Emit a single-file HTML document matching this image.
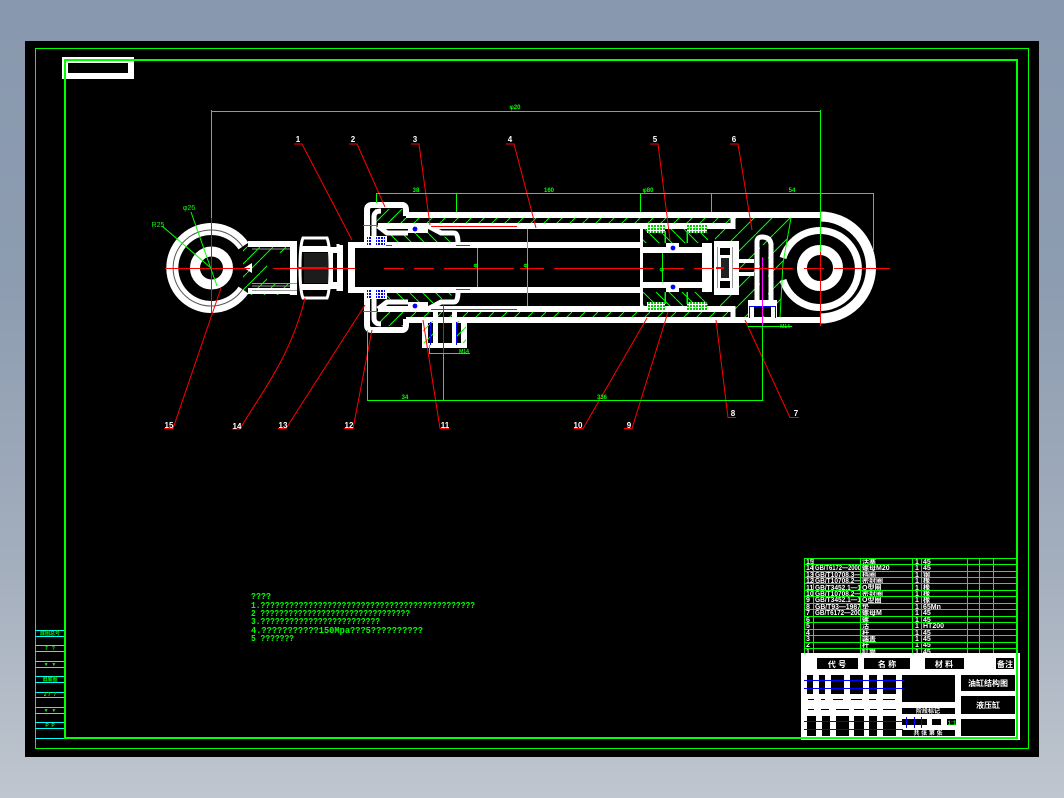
<!DOCTYPE html>
<html><head><meta charset="utf-8"><style>
html,body{margin:0;padding:0;width:1064px;height:798px;overflow:hidden}
body{background:linear-gradient(#8898ae,#8d9cb1 35%,#a3aebd 70%,#bfc6cf)}
svg{position:absolute;left:0;top:0}
text{font-family:"Liberation Sans","Noto Sans CJK SC",sans-serif}
.n{fill:#fff;font-size:8px;font-weight:bold;text-anchor:middle}
.g{fill:#0f0;font-size:6px;font-weight:bold;text-anchor:middle}
.t{fill:#fff;font-size:7px;font-weight:bold}
.k{fill:#fff;font-size:8px;font-weight:bold;text-anchor:middle}
.m{fill:#0f0;font-family:"Liberation Mono",monospace;font-size:9px;font-weight:bold}
.c{fill:#0f0;font-size:5px;font-weight:bold;text-anchor:middle}
</style></head><body>
<svg width="1064" height="798" viewBox="0 0 1064 798" shape-rendering="crispEdges">
<defs>
<pattern id="h1" patternUnits="userSpaceOnUse" width="13" height="13"><path d="M0 13L13 0" stroke="#0f0" stroke-width="1" shape-rendering="auto"/></pattern>
<pattern id="h2" patternUnits="userSpaceOnUse" width="18" height="18"><path d="M0 18L18 0" stroke="#0f0" stroke-width="1" shape-rendering="auto"/></pattern>
<pattern id="h3" patternUnits="userSpaceOnUse" width="13" height="13"><path d="M0 0L13 13" stroke="#0f0" stroke-width="1" shape-rendering="auto"/></pattern>
<pattern id="bc" patternUnits="userSpaceOnUse" width="3" height="3"><rect width="3" height="3" fill="#fff"/><rect width="2" height="2" fill="#00f"/></pattern>
<pattern id="gc" patternUnits="userSpaceOnUse" width="3" height="3"><rect width="3" height="3" fill="#fff"/><rect width="2" height="2" fill="#0c0"/></pattern>
<g id="half" fill="none" stroke="#fff">
  <!-- tube -->
  <path d="M406 215H820" stroke-width="6"/>
  <path d="M378 226H735" stroke-width="6"/>
  <path d="M733 212V229" stroke-width="5"/>
  <!-- rod -->
  <path d="M350 245H640" stroke-width="6"/>
  <!-- gland -->
  <path d="M367 243V210Q367 205 372 205H402Q406 205 406 210V216" stroke-width="6" shape-rendering="auto"/>
  <path d="M381 211Q374 211 374 217V240" stroke-width="5" shape-rendering="auto"/>
  <path d="M378 226L387 233H408" stroke-width="5" shape-rendering="auto"/>
  <rect x="408" y="226" width="20" height="7" fill="#fff" stroke="none"/>
  <path d="M428 226L441 233H454Q458 233 458 243" stroke-width="5" shape-rendering="auto"/>
  <!-- piston -->
  <path d="M643 250H708" stroke-width="6"/>
  <rect x="666" y="243" width="13" height="7" fill="#fff" stroke="none"/>
  <rect x="647" y="225" width="18" height="8" fill="url(#gc)" stroke="none"/>
  <rect x="687" y="225" width="20" height="8" fill="url(#gc)" stroke="none"/>
  <path d="M665 231V243M687 231V243" stroke-width="1.5" stroke="#0f0"/>
  <!-- seals -->
  <rect x="366" y="236" width="21" height="10" fill="#fff" stroke="none"/>
  <rect x="367" y="237" width="5" height="8" fill="url(#bc)" stroke="none"/>
  <rect x="376" y="237" width="9" height="8" fill="url(#bc)" stroke="none"/>
  <circle cx="415" cy="229" r="2.4" fill="#00f" stroke="none" shape-rendering="auto"/>
  <circle cx="673" cy="248" r="2.4" fill="#00f" stroke="none" shape-rendering="auto"/>
  <!-- clevis -->
  <path d="M248 244H297" stroke-width="6"/>
  <path d="M252 249H297" stroke="#999" stroke-width="1"/>
  <path d="M338 249V244" stroke-width="3"/>
</g>
</defs>
<rect x="25" y="41" width="1014" height="716" fill="#000"/>
<rect x="35.500" y="48.500" width="993" height="700" fill="none" stroke="#0f0"/>
<!-- top-left plate -->
<rect x="62" y="57" width="72" height="22" fill="#fff"/>
<rect x="68" y="63" width="60" height="10" fill="#000"/>
<!-- left strip -->
<g stroke="#0ff">
<path d="M35 630.500H65M35 636.500H65M35 645.500H65M35 651.500H65M35 661.500H65M35 667.500H65M35 676.500H65M35 682.500H65M35 692.500H65M35 697.500H65M35 707.500H65M35 713.500H65M35 722.500H65M35 728.500H65M35 738.500H65"/>
</g>
<g class="c"><text x="50" y="635" class="c">底图总号</text><text x="50" y="650" class="c">7 &#160; ?</text><text x="50" y="666" class="c">▼ &#160;▼</text><text x="50" y="681" class="c">旧底图</text><text x="50" y="696" class="c">2 7 &#160;7</text><text x="50" y="712" class="c">▼ &#160;▼</text><text x="50" y="727" class="c">P &#160;P</text></g>

<!-- drawing hatches -->
<rect x="378" y="218" width="355" height="5" fill="url(#h1)"/>
<rect x="378" y="312" width="355" height="5" fill="url(#h1)"/>
<rect x="375" y="209" width="30" height="14" fill="url(#h1)"/>
<rect x="375" y="312" width="30" height="14" fill="url(#h1)"/>
<polygon points="385,231 430,231 458,242 385,242" fill="url(#h3)"/>
<polygon points="385,304 430,304 458,293 385,293" fill="url(#h3)"/>
<polygon points="735,218 791,218 783,263 780,318 735,318 735,306 715,306 715,229 735,229" fill="url(#h2)"/>
<rect x="643" y="229" width="65" height="14" fill="url(#h3)"/>
<rect x="643" y="292" width="65" height="14" fill="url(#h3)"/>
<rect x="243" y="241" width="54" height="54" fill="url(#h1)"/>

<!-- white half, mirrored -->
<use href="#half"/>
<use href="#half" transform="matrix(1 0 0 -1 0 535)"/>

<!-- tube end, right eye -->
<g fill="none" stroke="#fff" shape-rendering="auto">
<path d="M820 216.500A51 51 0 0 1 820 318.500" stroke-width="10"/>
<path d="M783 258A38.500 38.500 0 1 1 783 280" stroke-width="7"/>
<circle cx="820" cy="268" r="18" stroke-width="10"/>
<!-- left eye -->
<path d="M243.500 246A39 39 0 1 0 243.500 290" stroke-width="12"/>
<path d="M242.600 246.700A38 38 0 1 0 242.600 289.300" stroke="#555" stroke-width="1"/>
<circle cx="211.500" cy="268" r="16.500" stroke-width="10"/>
<polygon points="244,268 252,263 252,273" fill="#fff" stroke="none"/>
<!-- line right of eye edge -->
<path d="M791 218L783 263L780 318" stroke="#0f0" stroke-width="1" />
</g>

<!-- clevis inner -->
<rect x="267" y="253" width="23" height="30" fill="#000"/>
<rect x="290" y="241" width="7" height="54" fill="#fff"/>
<rect x="252" y="283" width="45" height="1" fill="#999"/>
<rect x="252" y="290" width="45" height="1" fill="#999"/>
<!-- nut -->
<path d="M303 238H327Q330 245 330 268Q330 291 327 298H303Q300 291 300 268Q300 245 303 238Z" fill="#000" stroke="#fff" stroke-width="3" shape-rendering="auto"/>
<path d="M304 253H328V283H304Z" fill="#1c1c1c"/>
<rect x="301" y="246" width="28" height="6" fill="#fff"/>
<rect x="301" y="284" width="28" height="6" fill="#fff"/>
<rect x="330" y="247" width="8" height="42" fill="#fff"/>
<rect x="333" y="253" width="4" height="29" fill="#000"/>
<rect x="338" y="245" width="5" height="46" fill="#fff"/>
<rect x="343" y="253" width="6" height="29" fill="#000"/>
<rect x="348" y="242" width="7" height="51" fill="#fff"/>

<!-- piston body -->
<rect x="640" y="229" width="3" height="77" fill="#fff"/>
<rect x="702" y="243" width="10" height="49" fill="#fff"/>
<rect x="643" y="253" width="59" height="29" fill="#000"/>
<rect x="714" y="241" width="25" height="54" fill="#fff"/>
<rect x="720" y="248" width="10" height="7" fill="#000"/>
<rect x="720" y="281" width="10" height="7" fill="#000"/>
<rect x="721" y="258" width="8" height="20" fill="#222"/>
<rect x="717" y="247" width="1" height="41" fill="#999"/>
<rect x="732" y="247" width="1" height="41" fill="#999"/>
<!-- port in cap -->
<rect x="739" y="259" width="15" height="4" fill="#fff"/>
<rect x="739" y="272" width="15" height="4" fill="#fff"/>
<path d="M757 303V242Q757 237 762 237Q770 237 771 244V303" fill="none" stroke="#fff" stroke-width="5" shape-rendering="auto"/>
<rect x="760" y="245" width="8" height="55" fill="#000"/>
<rect x="748" y="300" width="29" height="7" fill="#fff"/>
<rect x="754" y="307" width="17" height="9" fill="#000"/>
<rect x="748" y="307" width="6" height="10" fill="#fff"/>
<rect x="771" y="307" width="6" height="10" fill="#fff"/>
<rect x="735" y="317" width="85" height="6" fill="#fff"/>
<rect x="749" y="306" width="1" height="12" fill="#00f"/>
<rect x="775" y="306" width="1" height="12" fill="#00f"/>
<rect x="749" y="306" width="27" height="1" fill="#00f"/>

<!-- bottom port -->
<rect x="422" y="320" width="6" height="28" fill="#fff"/>
<rect x="461" y="320" width="6" height="28" fill="#fff"/>
<rect x="422" y="343" width="45" height="5" fill="#fff"/>
<rect x="433" y="306" width="5" height="37" fill="#fff"/>
<rect x="452" y="306" width="5" height="37" fill="#fff"/>
<rect x="438" y="317" width="14" height="6" fill="#fff"/>
<rect x="423" y="321" width="10" height="22" fill="url(#h1)"/>
<rect x="456" y="321" width="10" height="22" fill="url(#h1)"/>
<rect x="430" y="322" width="1" height="23" fill="#00f"/>
<rect x="456" y="322" width="1" height="23" fill="#00f"/>

<!-- magenta -->
<g fill="#f0f"><rect x="363" y="225" width="15" height="1"/><rect x="363" y="311" width="15" height="1"/><rect x="762" y="257" width="1" height="68"/></g>
<!-- red short -->
<g fill="#f00">
<rect x="431" y="226" width="86" height="1"/><rect x="431" y="309" width="86" height="1"/>
<rect x="386" y="245" width="6" height="1"/><rect x="456" y="245" width="14" height="1"/>
<rect x="456" y="289" width="14" height="1"/>
<rect x="443" y="305" width="1" height="48"/>
</g>
<!-- centre lines -->
<g fill="#f00">
<rect x="165" y="268" width="85" height="1"/><rect x="273" y="268" width="24" height="1"/>
<rect x="297" y="267" width="30" height="2"/><rect x="327" y="268" width="28" height="1"/>
<rect x="384" y="268" width="20" height="1"/><rect x="414" y="268" width="20" height="1"/><rect x="444" y="268" width="70" height="1"/>
<rect x="520" y="268" width="24" height="1"/><rect x="554" y="268" width="100" height="1"/><rect x="663" y="268" width="21" height="1"/>
<rect x="694" y="268" width="20" height="1"/><rect x="716" y="267" width="8" height="2"/><rect x="733" y="268" width="60" height="1"/>
<rect x="804" y="268" width="20" height="1"/><rect x="834" y="268" width="56" height="1"/>
<rect x="211" y="218" width="1" height="95"/>
<rect x="820" y="252" width="1" height="74"/>
</g>
<!-- leaders -->
<g fill="none" stroke="#f00" stroke-width="1" shape-rendering="auto">
<path d="M294 144H302L352 240"/>
<path d="M349 144H357L385 207"/>
<path d="M411 144H419L430 225"/>
<path d="M506 144H514L536 228"/>
<path d="M650 144H658L670 240"/>
<path d="M730 144H738L752 230"/>
<path d="M164 428.500H173L221 288"/>
<path d="M232 429H240C256 400 290 360 305 298"/>
<path d="M278 428.500H286L365 305"/>
<path d="M344 428.500H353L372 330"/>
<path d="M449 428.500H440L423 320"/>
<path d="M574 428.500H583L647 318"/>
<path d="M624 428.500H632L668 312"/>
<path d="M736 417.500H728L716 320"/>
<path d="M799 417.500H790L745 320"/>
</g>
<g class="n">
<text x="298" y="142" class="n">1</text><text x="353" y="142" class="n">2</text><text x="415" y="142" class="n">3</text><text x="510" y="142" class="n">4</text><text x="655" y="142" class="n">5</text><text x="734" y="142" class="n">6</text>
<text x="169" y="428" class="n">15</text><text x="237" y="429" class="n">14</text><text x="283" y="428" class="n">13</text><text x="349" y="428" class="n">12</text><text x="445" y="428" class="n">11</text><text x="578" y="428" class="n">10</text><text x="629" y="428" class="n">9</text><text x="733" y="416" class="n">8</text><text x="796" y="416" class="n">7</text>
</g>
<!-- dimensions -->
<g fill="none" stroke="#0f0" stroke-width="1">
<path d="M211.500 110V218M820.500 110V252M211 111.500H821"/>
<path d="M376 193.500H873.500M376.500 193V203M456.500 193V212M640.500 193V212M711.500 193V212M873.500 193V250"/>
<path d="M367.500 330V400M367 400.500H763.500M762.500 325V400M443.500 353V400"/>
<path d="M748 326.500H792M430 353.500H470M429.500 345V354"/>
<path d="M477.500 248V287M527.500 229V306M662.500 253V282"/>
</g>
<g fill="none" stroke="#0f0" stroke-width="1" shape-rendering="auto"><path d="M162 226L211 268M191 212L217 286"/></g>
<text x="515" y="109" class="g">φ20</text>
<text x="416" y="192" class="g">38</text><text x="549" y="192" class="g">160</text><text x="648" y="192" class="g">φ80</text><text x="792" y="192" class="g">54</text>
<text x="405" y="399" class="g">34</text><text x="602" y="399" class="g">336</text>
<text x="464" y="353" class="c">M14</text><text x="785" y="328" class="c">M14</text>
<text x="476" y="268" class="g">Φ</text><text x="526" y="268" class="g">Φ</text><text x="662" y="272" class="g">Φ</text>
<text x="158" y="227" fill="#0f0" style="font-size:7px" text-anchor="middle">R25</text>
<text x="189" y="210" fill="#0f0" style="font-size:7px" text-anchor="middle">φ26</text>

<!-- notes -->
<text x="251" y="599" class="m" textLength="20" lengthAdjust="spacingAndGlyphs">????</text>
<text x="251" y="608" class="m" textLength="224" lengthAdjust="spacingAndGlyphs">1.?????????????????????????????????????????????</text>
<text x="251" y="616" class="m" textLength="159" lengthAdjust="spacingAndGlyphs">2 ????????????????????????????????</text>
<text x="251" y="624" class="m" textLength="129" lengthAdjust="spacingAndGlyphs">3.?????????????????????????</text>
<text x="251" y="633" class="m" textLength="172" lengthAdjust="spacingAndGlyphs">4.???????????150Mpa???5??????????</text>
<text x="251" y="641" class="m" textLength="43" lengthAdjust="spacingAndGlyphs">5 ???????</text>

<!-- parts table text -->
<g class="t">
<text x="806" y="564">15</text><text x="862" y="564">活塞</text><text x="915" y="564">1</text><text x="923" y="564">45</text>
<text x="806" y="570">14</text><text x="815" y="570" textLength="46" lengthAdjust="spacingAndGlyphs">GB/T6172—2000</text><text x="862" y="570">螺母M20</text><text x="915" y="570">1</text><text x="923" y="570">45</text>
<text x="806" y="577">13</text><text x="815" y="577" textLength="46" lengthAdjust="spacingAndGlyphs">GB/T10708.3—</text><text x="862" y="577">挡圈</text><text x="915" y="577">1</text><text x="923" y="577">钢</text>
<text x="806" y="583">12</text><text x="815" y="583" textLength="46" lengthAdjust="spacingAndGlyphs">GB/T10708.2—</text><text x="862" y="583">密封圈</text><text x="915" y="583">1</text><text x="923" y="583">橡</text>
<text x="806" y="590">11</text><text x="815" y="590" textLength="46" lengthAdjust="spacingAndGlyphs">GB/T3452.1—1</text><text x="862" y="590">O型圈</text><text x="915" y="590">1</text><text x="923" y="590">橡</text>
<text x="806" y="596">10</text><text x="815" y="596" textLength="46" lengthAdjust="spacingAndGlyphs">GB/T10708.2—</text><text x="862" y="596">密封圈</text><text x="915" y="596">1</text><text x="923" y="596">橡</text>
<text x="806" y="602">9</text><text x="815" y="602" textLength="46" lengthAdjust="spacingAndGlyphs">GB/T3452.1—1</text><text x="862" y="602">O型圈</text><text x="915" y="602">1</text><text x="923" y="602">橡</text>
<text x="806" y="609">8</text><text x="815" y="609" textLength="46" lengthAdjust="spacingAndGlyphs">GB/T93—1987</text><text x="862" y="609">垫</text><text x="915" y="609">1</text><text x="923" y="609">65Mn</text>
<text x="806" y="615">7</text><text x="815" y="615" textLength="46" lengthAdjust="spacingAndGlyphs">GB/T6172—200</text><text x="862" y="615">螺母M</text><text x="915" y="615">1</text><text x="923" y="615">45</text>
<text x="806" y="622">6</text><text x="862" y="622">螺</text><text x="915" y="622">1</text><text x="923" y="622">45</text>
<text x="806" y="628">5</text><text x="862" y="628">活</text><text x="915" y="628">1</text><text x="923" y="628">HT200</text>
<text x="806" y="635">4</text><text x="862" y="635">杆</text><text x="915" y="635">1</text><text x="923" y="635">45</text>
<text x="806" y="641">3</text><text x="862" y="641">端盖</text><text x="915" y="641">1</text><text x="923" y="641">45</text>
<text x="806" y="647">2</text><text x="862" y="647">杆</text><text x="915" y="647">1</text><text x="923" y="647">45</text>
<text x="806" y="654">1</text><text x="862" y="654">缸筒</text><text x="915" y="654">1</text><text x="923" y="654">45</text>
</g>
<g stroke="#0f0" stroke-width="1">
<path d="M804 558.500H1017M804 564.500H1017M804 571.500H1017M804 577.500H1017M804 583.500H1017M804 590.500H1017M804 596.500H1017M804 603.500H1017M804 609.500H1017M804 616.500H1017M804 622.500H1017M804 629.500H1017M804 635.500H1017M804 642.500H1017M804 648.500H1017M804 654.500H1017"/>
<path d="M804.500 558V655M813.500 558V655M860.500 558V655M912.500 558V655M921.500 558V655M967.500 558V655M979.500 558V655M993.500 558V655"/>
</g>
<!-- title block -->
<rect x="801" y="653" width="219" height="87" fill="#fff"/>
<g fill="#000">
<rect x="817" y="658" width="41" height="11"/><rect x="864" y="658" width="46" height="11"/><rect x="925" y="658" width="39" height="11"/><rect x="996" y="658" width="18" height="11"/>
<rect x="807" y="675" width="6" height="19"/><rect x="819" y="675" width="6" height="19"/><rect x="831" y="675" width="13" height="19"/><rect x="850" y="675" width="13" height="19"/><rect x="869" y="675" width="8" height="19"/><rect x="883" y="675" width="13" height="19"/>
<rect x="807" y="716" width="9" height="20"/><rect x="822" y="716" width="8" height="20"/><rect x="836" y="716" width="13" height="20"/><rect x="854" y="716" width="10" height="20"/><rect x="869" y="716" width="8" height="20"/><rect x="883" y="716" width="13" height="20"/>
<rect x="902" y="675" width="53" height="27"/>
<rect x="961" y="675" width="54" height="16"/><rect x="961" y="696" width="54" height="18"/><rect x="961" y="719" width="54" height="17"/>
<rect x="902" y="708" width="53" height="6"/><rect x="902" y="719" width="25" height="6"/><rect x="932" y="719" width="9" height="6"/><rect x="947" y="719" width="9" height="6"/><rect x="902" y="730" width="53" height="6"/>
<rect x="808" y="699" width="6" height="1"/><rect x="821" y="699" width="4" height="1"/><rect x="833" y="699" width="10" height="1"/><rect x="851" y="699" width="11" height="1"/><rect x="869" y="699" width="7" height="1"/><rect x="883" y="699" width="12" height="1"/>
<rect x="808" y="709" width="6" height="1"/><rect x="821" y="709" width="8" height="1"/><rect x="836" y="709" width="13" height="1"/><rect x="854" y="709" width="10" height="1"/><rect x="870" y="709" width="7" height="1"/><rect x="883" y="709" width="13" height="1"/>
</g>
<g fill="#00f"><rect x="804" y="680" width="100" height="1"/><rect x="804" y="688" width="99" height="1"/><rect x="804" y="721" width="99" height="1"/><rect x="804" y="729" width="99" height="1"/><rect x="906" y="717" width="1" height="11"/><rect x="914" y="717" width="1" height="11"/><rect x="921" y="717" width="1" height="11"/></g>
<text x="837" y="667" class="k">代 号</text><text x="887" y="667" class="k">名 称</text><text x="944" y="667" class="k">材 料</text><text x="1005" y="667" class="k">备注</text>
<text x="988" y="686" class="k">油缸结构图</text><text x="988" y="708" class="k">液压缸</text>
<text x="952" y="725" fill="#0f0" style="font-size:6px;font-weight:bold" text-anchor="middle">1:1</text>
<text x="928" y="713" fill="#fff" style="font-size:6px;font-weight:bold" text-anchor="middle">阶段标记</text>
<text x="928" y="735" fill="#fff" style="font-size:6px;font-weight:bold" text-anchor="middle">共 张 第 张</text>
<!-- main frame -->
<rect x="65" y="60" width="952" height="678" fill="none" stroke="#0f0" stroke-width="2"/>
</svg>
</body></html>
